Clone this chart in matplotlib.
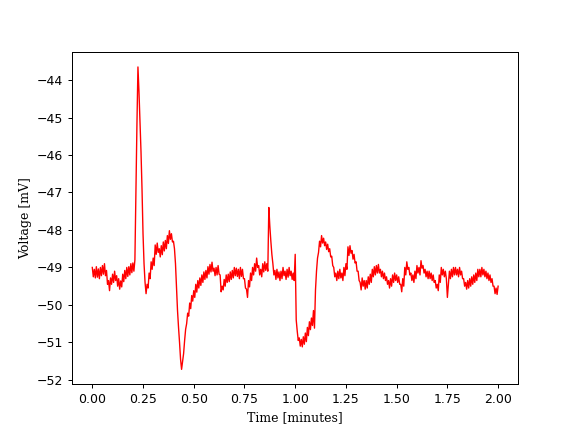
import numpy as np
import matplotlib
matplotlib.use("Agg")
import matplotlib.pyplot as plt

# Voltage trace [mV], sampled every 0.005 minutes from 0.00 to 2.00 min
volts = [
    # 0.000 - 0.095
    -49.00, -49.25, -49.05, -49.28, -48.98, -49.26, -49.04, -49.30, -49.00, -49.22,
    -48.95, -49.18, -48.90, -49.22, -49.08, -49.45, -49.35, -49.62, -49.28, -49.45,
    # 0.100 - 0.195
    -49.18, -49.40, -49.10, -49.35, -49.22, -49.50, -49.30, -49.58, -49.36, -49.52,
    -49.18, -49.38, -49.08, -49.30, -49.00, -49.24, -48.98, -49.20, -48.90, -49.14,
    # 0.200 - 0.295
    -48.88, -49.10, -48.80, -47.00, -45.20, -43.65, -44.30, -45.10, -45.90, -46.90,
    -48.10, -48.90, -49.40, -49.70, -49.45, -49.55, -49.15, -49.30, -48.85, -49.05,
    # 0.300 - 0.395
    -48.75, -48.95, -48.40, -48.65, -48.35, -48.60, -48.50, -48.72, -48.42, -48.66,
    -48.32, -48.56, -48.28, -48.50, -48.15, -48.36, -48.02, -48.25, -48.10, -48.32,
    # 0.400 - 0.495
    -48.30, -48.50, -48.90, -49.50, -50.15, -50.60, -51.00, -51.45, -51.72, -51.50,
    -51.30, -50.95, -50.65, -50.50, -50.22, -50.30, -49.95, -50.10, -49.75, -49.90,
    # 0.500 - 0.595
    -49.62, -49.80, -49.45, -49.66, -49.35, -49.55, -49.28, -49.48, -49.20, -49.40,
    -49.12, -49.32, -49.08, -49.28, -48.98, -49.18, -48.92, -49.12, -48.86, -49.10,
    # 0.600 - 0.695
    -49.02, -49.22, -49.00, -49.20, -48.95, -49.18, -49.20, -49.65, -49.50, -49.60,
    -49.32, -49.50, -49.20, -49.40, -49.18, -49.38, -49.12, -49.32, -49.08, -49.28,
    # 0.700 - 0.795
    -49.00, -49.22, -49.02, -49.24, -49.05, -49.30, -49.00, -49.24, -49.05, -49.30,
    -49.30, -49.55, -49.58, -49.80, -49.35, -49.52, -49.15, -49.35, -49.00, -49.20,
    # 0.800 - 0.895
    -48.90, -49.10, -48.75, -49.00, -48.95, -49.20, -49.05, -49.25, -48.90, -49.12,
    -48.85, -49.08, -48.90, -49.10, -47.40, -47.90, -48.30, -48.65, -48.90, -49.20,
    # 0.900 - 0.995
    -49.08, -49.32, -49.05, -49.28, -49.12, -49.35, -49.10, -49.30, -49.00, -49.22,
    -49.10, -49.32, -49.05, -49.26, -49.00, -49.22, -49.10, -49.32, -49.15, -49.35,
    # 1.000 - 1.095
    -48.65, -50.40, -50.70, -50.95, -50.88, -51.10, -50.92, -51.12, -50.85, -51.05,
    -50.75, -50.98, -50.60, -50.82, -50.45, -50.66, -50.35, -50.55, -50.15, -50.62,
    # 1.100 - 1.195
    -49.60, -49.10, -48.75, -48.60, -48.30, -48.45, -48.15, -48.35, -48.22, -48.42,
    -48.32, -48.52, -48.38, -48.58, -48.50, -48.72, -48.70, -48.95, -49.00, -49.25,
    # 1.200 - 1.295
    -49.15, -49.35, -49.10, -49.30, -49.05, -49.28, -49.15, -49.35, -49.00, -49.22,
    -48.90, -49.05, -48.45, -48.68, -48.42, -48.62, -48.55, -48.78, -48.65, -48.88,
    # 1.300 - 1.395
    -48.85, -49.10, -49.10, -49.35, -49.40, -49.60, -49.28, -49.50, -49.35, -49.58,
    -49.35, -49.55, -49.25, -49.45, -49.18, -49.40, -49.05, -49.25, -48.98, -49.20,
    # 1.400 - 1.495
    -48.95, -49.15, -48.92, -49.15, -49.05, -49.25, -49.10, -49.30, -49.15, -49.35,
    -49.25, -49.45, -49.35, -49.55, -49.30, -49.50, -49.20, -49.40, -49.15, -49.35,
    # 1.500 - 1.595
    -49.20, -49.40, -49.25, -49.45, -49.45, -49.65, -49.30, -49.50, -49.00, -49.20,
    -48.85, -49.05, -49.00, -49.20, -49.15, -49.35, -49.20, -49.40, -49.10, -49.30,
    # 1.600 - 1.695
    -48.95, -49.15, -49.00, -49.20, -48.82, -49.02, -48.95, -49.15, -49.05, -49.25,
    -49.10, -49.30, -49.10, -49.30, -49.15, -49.35, -49.20, -49.40, -49.35, -49.55,
    # 1.700 - 1.795
    -49.45, -49.62, -49.20, -49.40, -49.00, -49.20, -49.05, -49.25, -49.10, -49.30,
    -49.80, -49.45, -49.10, -49.30, -49.05, -49.25, -49.00, -49.20, -49.00, -49.20,
    # 1.800 - 1.895
    -49.05, -49.25, -49.00, -49.20, -49.10, -49.30, -49.30, -49.50, -49.40, -49.58,
    -49.35, -49.55, -49.30, -49.50, -49.25, -49.45, -49.20, -49.40, -49.15, -49.35,
    # 1.900 - 1.995
    -49.05, -49.25, -49.05, -49.25, -49.00, -49.20, -49.05, -49.25, -49.10, -49.30,
    -49.15, -49.35, -49.20, -49.40, -49.30, -49.50, -49.50, -49.70, -49.55, -49.72,
    # 2.000
    -49.50,
]

t_start = 0.0
t_end = 2.0
time_min = np.linspace(t_start, t_end, len(volts))

x_label = "Time [minutes]"
y_label = "Voltage [mV]"

fig, ax = plt.subplots(figsize=(6.4, 4.8), dpi=90)
ax.plot(time_min, volts, color="red", linewidth=1.1)
ax.set_xlabel(x_label, family="DejaVu Serif")
ax.set_ylabel(y_label, family="DejaVu Serif")
ax.set_xticks([0.0, 0.25, 0.5, 0.75, 1.0, 1.25, 1.5, 1.75, 2.0])
fig.savefig("out.png", dpi=90)
